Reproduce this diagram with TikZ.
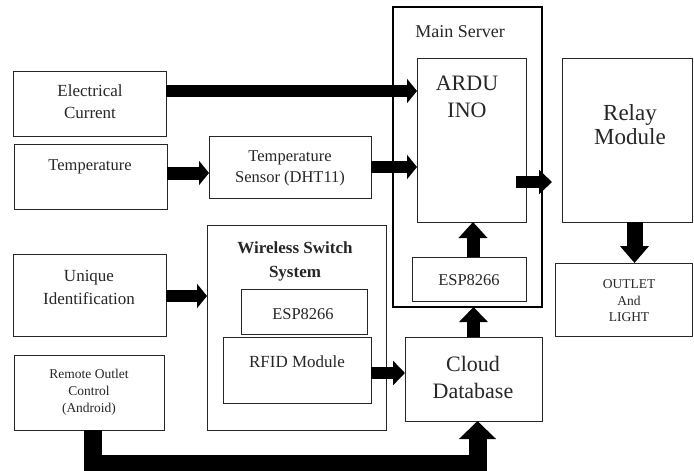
\documentclass[tikz,border=0pt]{standalone}
\usepackage{fontspec}
\setmainfont{Liberation Serif}
\usetikzlibrary{arrows.meta}
\tikzset{
  box/.style={draw=black!85, line width=0.9pt, inner sep=0pt, outer sep=0pt, anchor=north west},
  mainbox/.style={box, line width=2.2pt, draw=black},
  txt/.style={align=center, inner sep=0pt, text=black!85},
  fat/.style={draw=black, line width=12pt, -{Triangle[length=10pt,width=24pt]}},
  fatv/.style={draw=black, line width=13pt, -{Triangle[length=16pt,width=28pt]}},
}
\newcommand\fs[2]{\fontsize{#1}{#2}\selectfont}
\begin{document}
\begin{tikzpicture}[x=1pt,y=-1pt]
\useasboundingbox (0,0) rectangle (694,471);
% boxes
\node[box, minimum width=153pt, minimum height=65pt] (elec) at (13,71) {};
\node[box, minimum width=153pt, minimum height=65pt] (temp) at (14,144) {};
\node[box, minimum width=162pt, minimum height=62pt] (sens) at (209,136) {};
\node[mainbox, minimum width=149pt, minimum height=300pt] (main) at (393,7) {};
\node[box, minimum width=109pt, minimum height=164pt] (ardu) at (417,58) {};
\node[box, minimum width=130pt, minimum height=164pt] (relay) at (562,58) {};
\node[box, minimum width=137pt, minimum height=73pt] (outlet) at (555,263) {};
\node[box, minimum width=114pt, minimum height=44pt] (espm) at (412,257) {};
\node[box, minimum width=137pt, minimum height=84pt] (cloud) at (405,337) {};
\node[box, minimum width=179pt, minimum height=205pt] (wss) at (207,225) {};
\node[box, minimum width=126pt, minimum height=45pt] (espw) at (241,289) {};
\node[box, minimum width=148pt, minimum height=66pt] (rfid) at (223,337) {};
\node[box, minimum width=153pt, minimum height=82pt] (uid) at (13,254) {};
\node[box, minimum width=150pt, minimum height=75pt] (remote) at (14,355) {};
% texts
\node[txt, font=\fs{17}{22}] (t1) at (90,102) {Electrical\\Current};
\node[txt, font=\fs{16.5}{21}] (t2) at (90,167) {Temperature};
\node[txt, font=\fs{16.5}{21}] (t3) at (290,168) {Temperature\\Sensor (DHT11)};
\node[txt, font=\fs{18}{22}] (t4) at (460,32) {Main Server};
\node[txt, font=\fs{22}{27}] (t5) at (467,97) {ARDU\\INO};
\node[txt, font=\fs{23}{24}] (t6) at (630,125) {Relay\\Module};
\node[txt, font=\fs{13.5}{16.5}] (t7) at (629,301) {OUTLET\\And\\LIGHT};
\node[txt, font=\fs{16.5}{21}] (t8) at (469,280) {ESP8266};
\node[txt, font=\bfseries\fs{17}{24}] (t9) at (295,261) {Wireless Switch\\System};
\node[txt, font=\fs{16.5}{21}] (t10) at (303,314) {ESP8266};
\node[txt, font=\fs{17}{21}] (t11) at (297,362) {RFID Module};
\node[txt, font=\fs{17}{23}] (t12) at (89,287) {Unique\\Identification};
\node[txt, font=\fs{13.5}{17}] (t13) at (89,392) {Remote Outlet\\Control\\(Android)};
\node[txt, font=\fs{22}{27}] (t14) at (473,377) {Cloud\\Database};
% connectors
\draw[fat] ([yshift=12.5pt]elec.east) -- ([yshift=12.5pt]elec.east -| ardu.west);
\draw[fat, line width=13pt] ([yshift=3.5pt]temp.east) -- ([yshift=3.5pt]temp.east -| sens.west);
\draw[fat] (sens.east) -- (sens.east -| ardu.west);
\draw[fat, -{Triangle[length=13pt,width=24pt]}] ([xshift=-10pt,yshift=-42pt]ardu.east) -- ([xshift=-10pt,yshift=-42pt]ardu.east -| relay.west);
\draw[fatv, line width=16pt, -{Triangle[length=17pt,width=28pt]}] ([xshift=7.5pt]relay.south) -- ([xshift=7.5pt]relay.south |- outlet.north);
\draw[fatv] ([xshift=4pt]espm.north) -- ([xshift=4pt]espm.north |- ardu.south);
\draw[fatv, -{Triangle[length=15pt,width=28pt]}] (cloud.north) -- (cloud.north |- main.south);
\draw[fat, -{Triangle[length=12pt,width=24pt]}] ([yshift=-3pt]rfid.east) -- ([yshift=-3pt]rfid.east -| cloud.west);
\draw[fat] ([yshift=-1pt]uid.east) -- ([yshift=-1pt]uid.east -| wss.west);
\draw[fatv, line width=18pt, line join=miter, -{Triangle[length=18pt,width=36pt]}] ([xshift=4pt]remote.south) -- ++(0,34) -| ([xshift=4pt]cloud.south);
\end{tikzpicture}
\end{document}
